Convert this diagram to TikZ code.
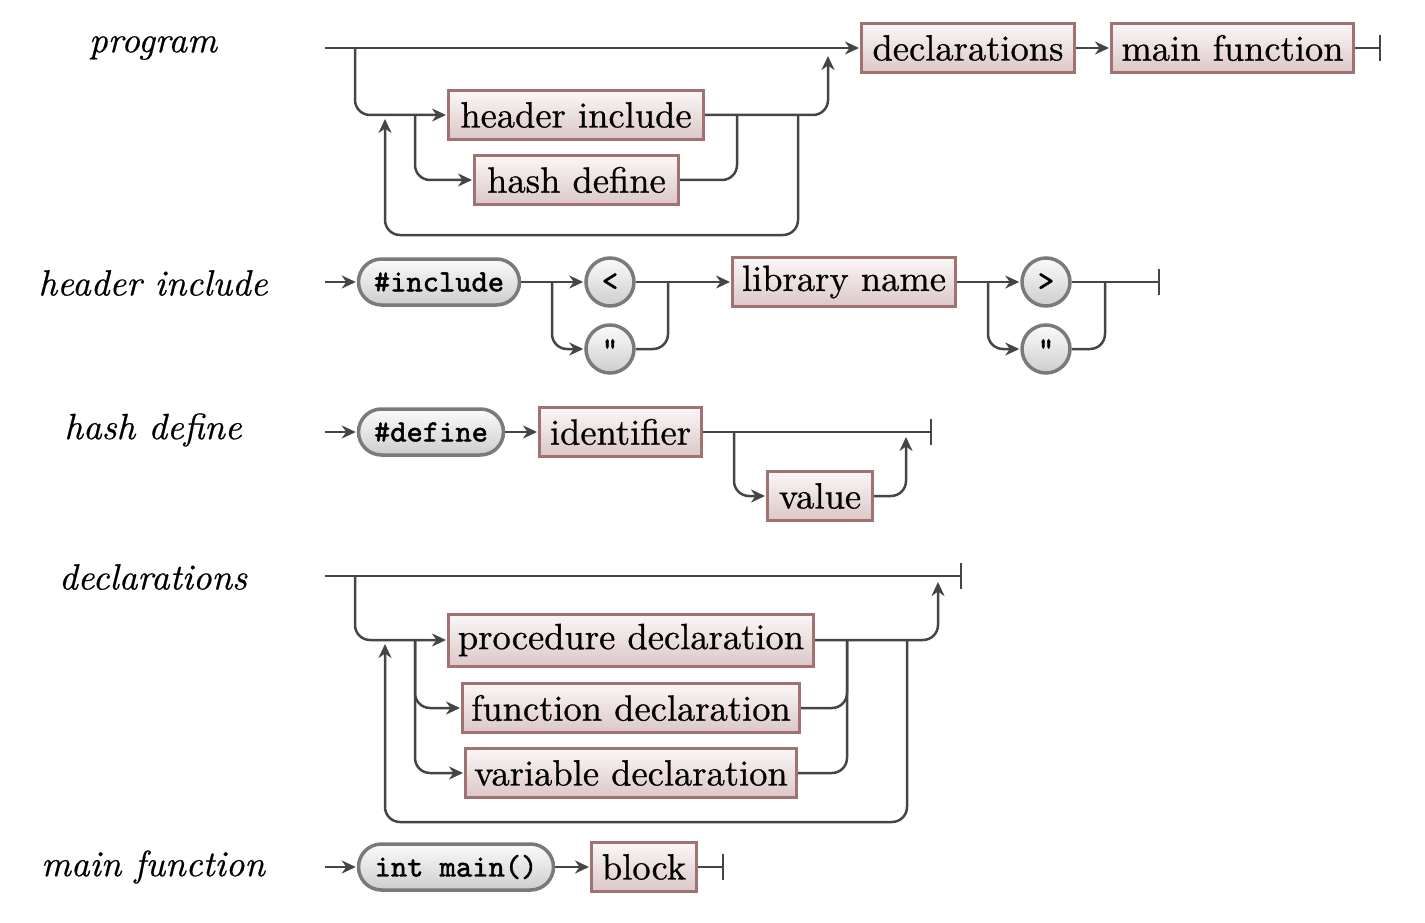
\documentclass[tikz,border=0pt]{standalone}
\usepackage{fontspec}
\newfontfamily\ntfont{lmroman10-regular.otf}[FakeBold=0.7]
\newfontfamily\lblfont{lmroman10-italic.otf}[FakeBold=0.5]
\newfontfamily\termfont{lmmono10-regular.otf}[FakeBold=1.5]
\usetikzlibrary{arrows.meta,shapes.misc}
\definecolor{ntborder}{HTML}{A07272}
\definecolor{nttop}{HTML}{FBF7F7}
\definecolor{ntbot}{HTML}{DCC7C7}
\definecolor{tborder}{HTML}{7A7A7A}
\definecolor{ttop}{HTML}{FBFBFB}
\definecolor{tbot}{HTML}{CDCDCD}
\definecolor{linec}{HTML}{454545}
\tikzset{
  nt/.style={rectangle, draw=ntborder, line width=3pt, top color=nttop, bottom color=ntbot,
    minimum height=49pt, inner sep=0pt, font=\fontsize{36.5}{40}\ntfont},
  term/.style={rounded rectangle, draw=tborder, line width=3.5pt, top color=ttop, bottom color=tbot,
    minimum height=46pt, inner sep=0pt, font=\fontsize{31}{34}\termfont},
  circ/.style={circle, draw=tborder, line width=3.5pt, top color=ttop, bottom color=tbot,
    minimum size=48pt, inner sep=0pt, font=\fontsize{31}{34}\termfont},
  lbl/.style={font=\fontsize{36.5}{40}\lblfont},
  conn/.style={draw=linec, line width=2.5pt, rounded corners=15pt},
  arr/.style={conn, -{Stealth[length=14pt,width=13pt,inset=4.5pt]}, shorten >=1pt},
  fin/.style={conn, -{Bar[width=26pt]}},
}
\begin{document}
\begin{tikzpicture}[x=1pt,y=-1pt]
\useasboundingbox (0,0) rectangle (1425,923);

% ---------- program ----------
\node[lbl] (Lprog) at (153,48) {program};
\coordinate (p0) at (325,48);
\coordinate (pend) at (1381,48);
\node[nt, minimum width=213] (decl) at (968,48) {declarations};
\node[nt, minimum width=242] (mainf) at (1232.5,48) {main function};
\node[nt, minimum width=255] (hinc) at (576,115) {header include};
\node[nt, minimum width=204] (hdef) at (576.5,180) {hash define};
\coordinate (pb1) at (355,48);
\coordinate (pb2) at (415,115);
\coordinate (pj1) at (828,55);
\coordinate (pj2) at (737,115);
\coordinate (pl1) at (798,115);
\coordinate (pl2) at (385,118);
\draw[arr] (p0) -- (decl.west);
\draw[arr] (decl.east) -- (mainf.west);
\draw[fin] (mainf.east) -- (pend);
\draw[arr] (pb1) |- (hinc.west);
\draw[arr] (pb2) |- (hdef.west);
\draw[arr] (hinc.east) -| (pj1);
\draw[conn] (hdef.east) -| (pj2);
\draw[arr] (pl1) -- (798,235) -- (385,235) -- (pl2);

% ---------- header include ----------
\node[lbl] (Lhinc) at (153,283) {header include};
\coordinate (h0) at (325,282);
\coordinate (hend) at (1160,282);
\node[term, minimum width=161] (inc) at (439,282) {\#include};
\node[circ] (lt) at (610,282) {<};
\node[circ] (q1) at (610,349) {"};
\node[nt, minimum width=223] (lib) at (844,282) {library name};
\node[circ] (gt) at (1046,282) {>};
\node[circ] (q2) at (1046,349) {"};
\coordinate (hb1) at (552,282);
\coordinate (hj1) at (668,282);
\coordinate (hb2) at (988,282);
\coordinate (hj2) at (1105,282);
\draw[arr] (h0) -- (inc.west);
\draw[arr] (inc.east) -- (lt.west);
\draw[arr] (hb1) |- (q1.west);
\draw[arr] (lt.east) -- (lib.west);
\draw[conn] (q1.east) -| (hj1);
\draw[arr] (lib.east) -- (gt.west);
\draw[arr] (hb2) |- (q2.west);
\draw[fin] (gt.east) -- (hend);
\draw[conn] (q2.east) -| (hj2);

% ---------- hash define ----------
\node[lbl] (Lhdef) at (153,430) {hash define};
\coordinate (d0) at (325,432);
\coordinate (dend) at (932,432);
\node[term, minimum width=145] (def) at (431,432) {\#define};
\node[nt, minimum width=162] (ident) at (620.5,432) {identifier};
\node[nt, minimum width=105] (val) at (820,496) {value};
\coordinate (db1) at (734,432);
\coordinate (dj1) at (906,436);
\draw[arr] (d0) -- (def.west);
\draw[arr] (def.east) -- (ident.west);
\draw[fin] (ident.east) -- (dend);
\draw[arr] (db1) |- (val.west);
\draw[arr] (val.east) -| (dj1);

% ---------- declarations ----------
\node[lbl] (Ldecl) at (153,577) {declarations};
\coordinate (c0) at (325,576);
\coordinate (cend) at (962,576);
\node[nt, minimum width=365, minimum height=52pt] (proc) at (631,640) {procedure declaration};
\node[nt, minimum width=337] (func) at (631,708) {function declaration};
\node[nt, minimum width=331] (var) at (631,773) {variable declaration};
\coordinate (cb1) at (355,576);
\coordinate (cb2) at (415,640);
\coordinate (cj1) at (938,581);
\coordinate (cj2) at (847,640);
\coordinate (cl1) at (907,640);
\coordinate (cl2) at (385,643);
\draw[fin] (c0) -- (cend);
\draw[arr] (cb1) |- (proc.west);
\draw[arr] (cb2) |- (func.west);
\draw[arr] (cb2) |- (var.west);
\draw[arr] (proc.east) -| (cj1);
\draw[conn] (func.east) -| (cj2);
\draw[conn] (var.east) -| (cj2);
\draw[arr] (cl1) -- (907,822) -- (385,822) -- (cl2);

% ---------- main function ----------
\node[lbl] (Lmain) at (153,867) {main function};
\coordinate (m0) at (325,867);
\coordinate (mend) at (724,867);
\node[term, minimum width=195] (imain) at (456,867) {int main()};
\node[nt, minimum width=105] (blk) at (644,867) {block};
\draw[arr] (m0) -- (imain.west);
\draw[arr] (imain.east) -- (blk.west);
\draw[fin] (blk.east) -- (mend);
\end{tikzpicture}
\end{document}
